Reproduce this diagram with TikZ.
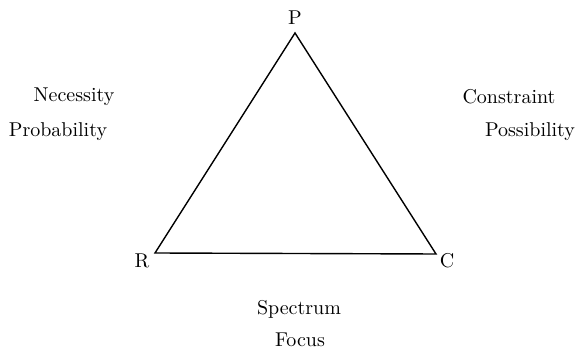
\documentclass[tikz,border=0pt]{standalone}
\usepackage{tikz}
\begin{document}
\begin{tikzpicture}[x=0.5pt, y=-0.5pt,
					label/.style={font=\normalsize, inner sep=0pt},
					edge/.style={line width=0.7pt, line join=miter}]
					%Bildbereich festlegen
					\useasboundingbox (0,0) rectangle (577,351);
					% Ecken des Dreiecks
					\coordinate (p) at (295,33);
					\coordinate (r) at (155,253);
					\coordinate (c) at (436,254);
					% Eckenbeschriftung
					\node[label] (plabel) at (295,18) {P};
					\node[label] (rlabel) at (142,261) {R};
					\node[label] (clabel) at (447,261) {C};
					% Dreieck zeichnen
					\draw[edge] (p) -- (r) -- (c) -- cycle;
					% Seitenbeschriftung
					\node[label] (necessity) at (74,97) {Necessity};
					\node[label] (probability) at (58,132) {Probability};
					\node[label] (constraint) at (509,97) {Constraint};
					\node[label] (possibility) at (530,132) {Possibility};
					\node[label] (spectrum) at (299,309) {Spectrum};
					\node[label] (focus) at (300,340) {Focus};
				\end{tikzpicture}
\end{document}
